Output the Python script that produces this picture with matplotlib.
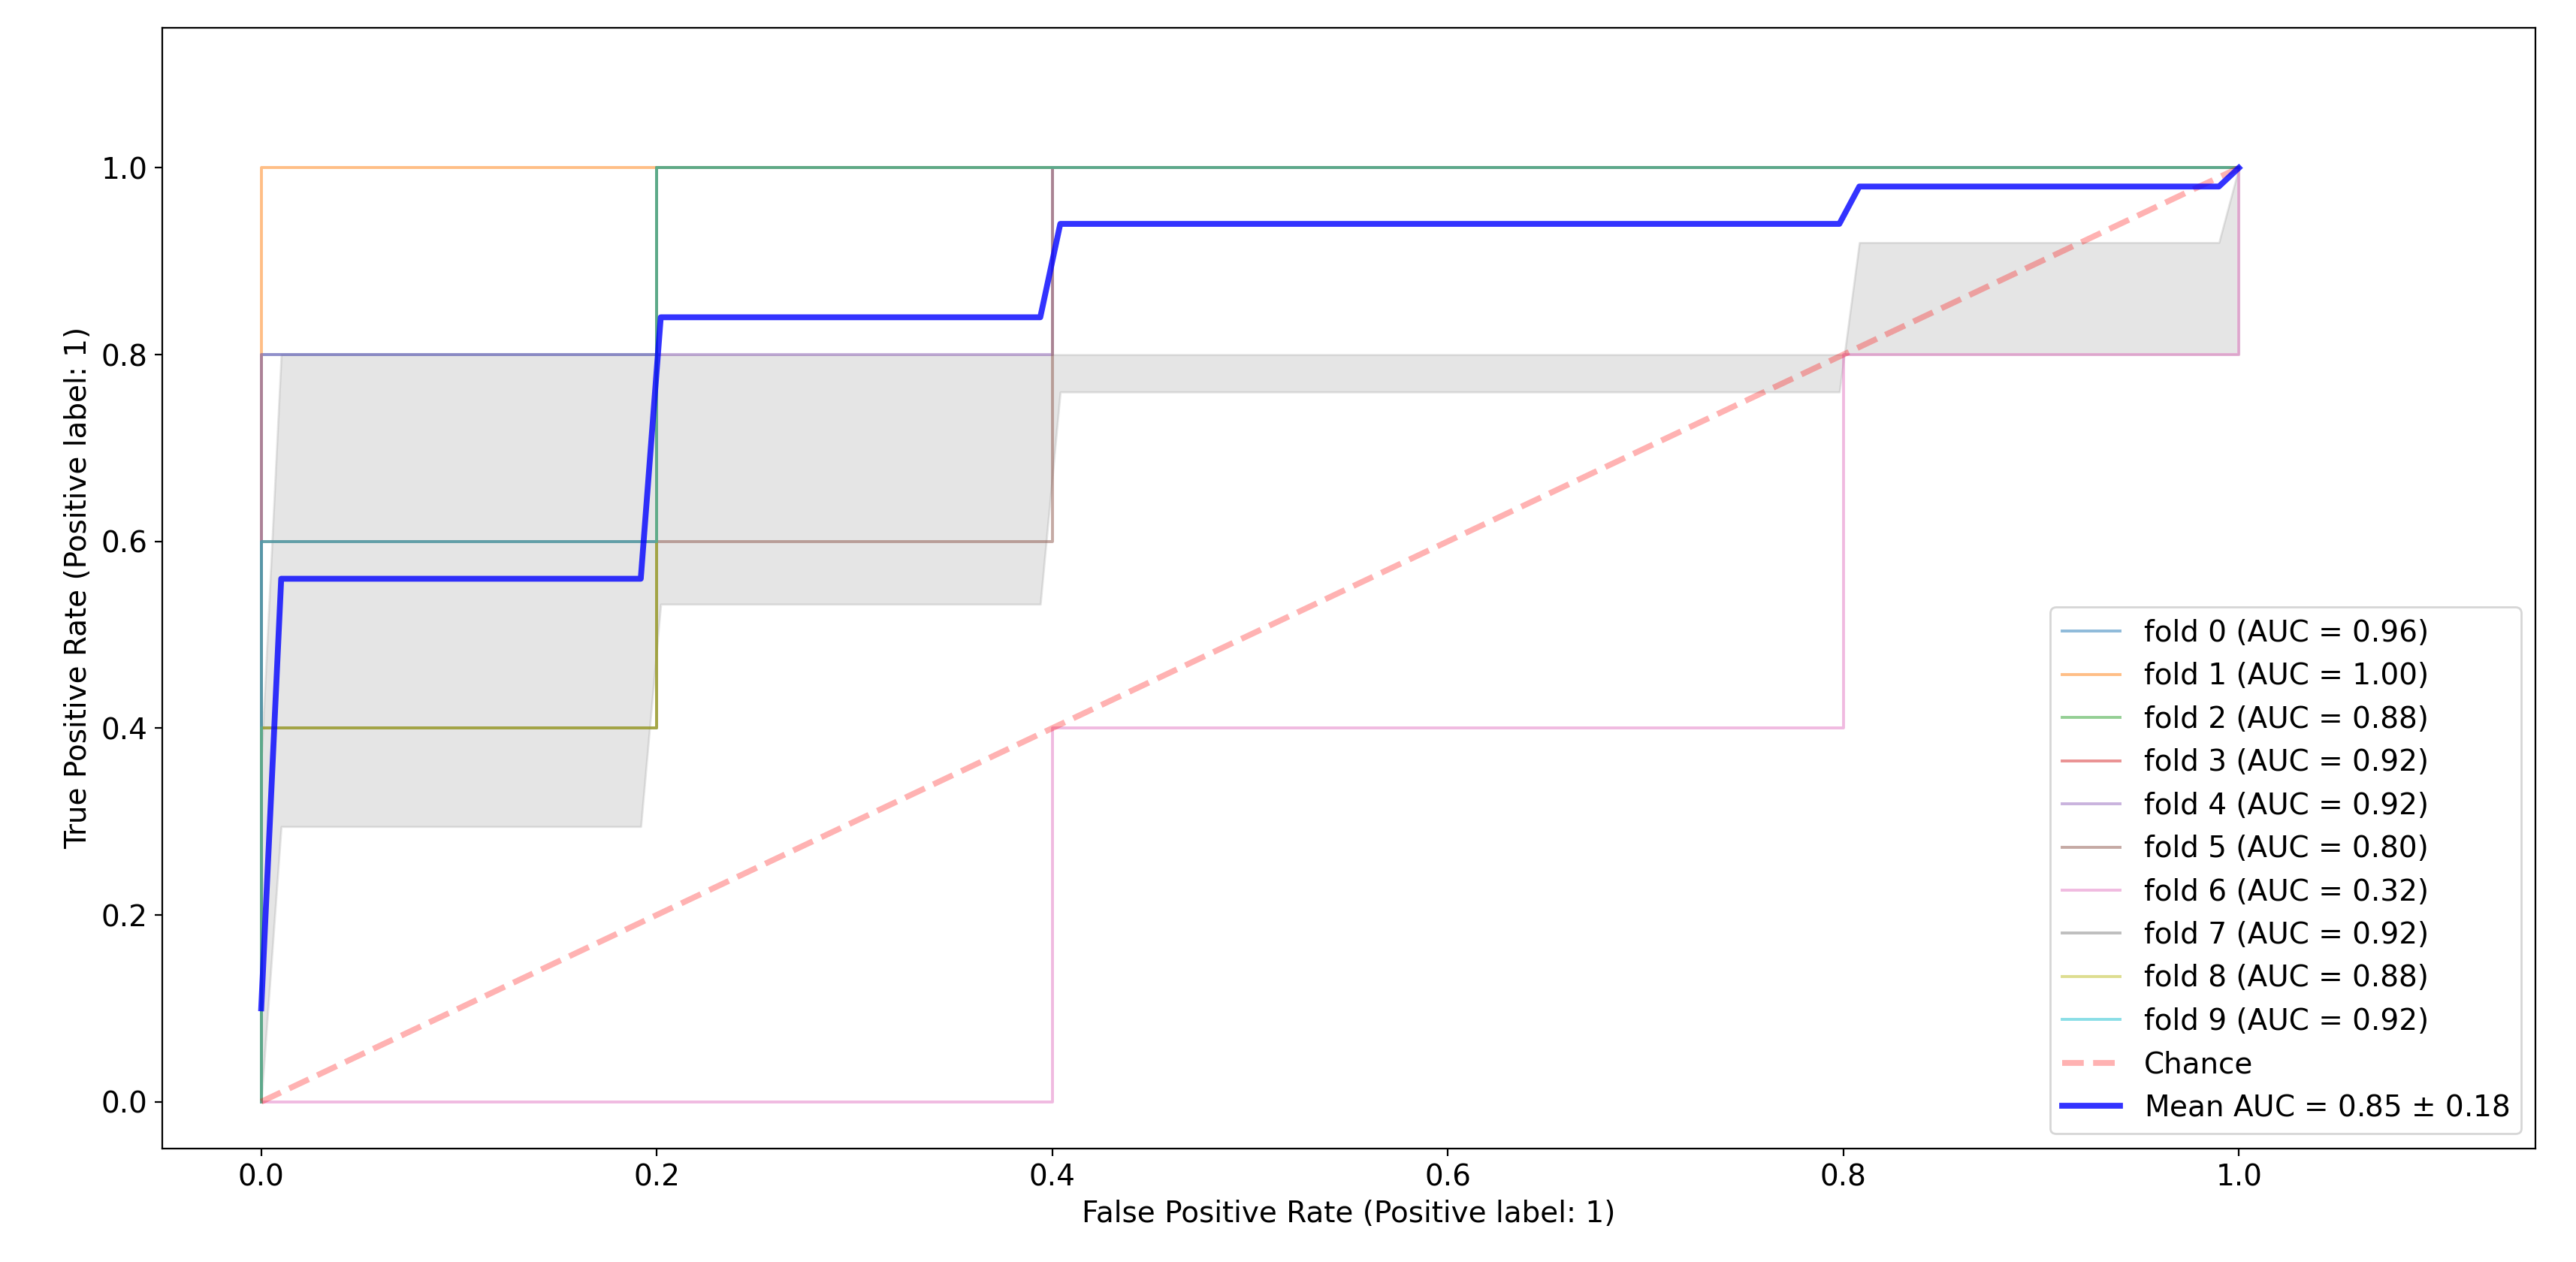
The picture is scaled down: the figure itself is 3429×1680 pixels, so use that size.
import matplotlib
matplotlib.use("Agg")
import matplotlib.pyplot as plt
import numpy as np

# ROC points per fold (fpr, tpr)
fold_fpr = [
    [0.0, 0.0, 0.0, 0.2, 0.2, 1.0],
    [0.0, 0.0, 0.0, 1.0],
    [0.0, 0.0, 0.0, 0.2, 0.2, 1.0],
    [0.0, 0.0, 0.0, 0.2, 0.2, 1.0],
    [0.0, 0.0, 0.0, 0.4, 0.4, 1.0],
    [0.0, 0.0, 0.0, 0.2, 0.2, 0.4, 0.4, 1.0],
    [0.0, 0.4, 0.4, 0.8, 0.8, 1.0, 1.0],
    [0.0, 0.0, 0.0, 0.2, 0.2, 1.0],
    [0.0, 0.0, 0.0, 0.2, 0.2, 1.0],
    [0.0, 0.0, 0.0, 0.2, 0.2, 1.0],
]
fold_tpr = [
    [0.0, 0.0, 0.8, 0.8, 1.0, 1.0],
    [0.0, 0.0, 1.0, 1.0],
    [0.0, 0.0, 0.4, 0.4, 1.0, 1.0],
    [0.0, 0.0, 0.6, 0.6, 1.0, 1.0],
    [0.0, 0.0, 0.8, 0.8, 1.0, 1.0],
    [0.0, 0.0, 0.4, 0.4, 0.6, 0.6, 1.0, 1.0],
    [0.0, 0.0, 0.4, 0.4, 0.8, 0.8, 1.0],
    [0.0, 0.0, 0.6, 0.6, 1.0, 1.0],
    [0.0, 0.0, 0.4, 0.4, 1.0, 1.0],
    [0.0, 0.0, 0.6, 0.6, 1.0, 1.0],
]
fold_auc = [0.96, 1.00, 0.88, 0.92, 0.92, 0.80, 0.32, 0.92, 0.88, 0.92]
mean_start = 0.1   # value of the mean curve at fpr = 0
band_cap = 0.8     # upper edge of the grey band as drawn in the reference

plt.rcParams["font.size"] = 14

mean_fpr = np.linspace(0, 1, 100)
tprs = []
for fpr, tpr in zip(fold_fpr, fold_tpr):
    t = np.interp(mean_fpr, fpr[1:], tpr[1:])
    tprs.append(t)
tprs = np.array(tprs)
mean_tpr = tprs.mean(axis=0)
mean_tpr[0] = mean_start
mean_tpr[-1] = 1.0
std_tpr = tprs.std(axis=0)
std_auc = np.std(fold_auc)

fig, ax = plt.subplots(figsize=(17.15, 8.4), dpi=200)

for i, (fpr, tpr) in enumerate(zip(fold_fpr, fold_tpr)):
    ax.plot(fpr, tpr, lw=1.4, alpha=0.5, color=f"C{i}",
            label=f"fold {i} (AUC = {fold_auc[i]:.2f})")

ax.plot([0, 1], [0, 1], linestyle="--", lw=2.8, color="r", alpha=0.3, label="Chance")
ax.plot(mean_fpr, mean_tpr, color="b", lw=2.8, alpha=0.8,
        label=rf"Mean AUC = {0.85:.2f} $\pm$ {std_auc:.2f}")

upper = np.minimum(mean_tpr + std_tpr, band_cap)
lower = np.maximum(mean_tpr - std_tpr, 0)
ax.fill_between(mean_fpr, lower, upper, color="grey", alpha=0.2)

ax.set_xlim(-0.05, 1.15)
ax.set_ylim(-0.05, 1.15)
ax.set_xticks([0, 0.2, 0.4, 0.6, 0.8, 1.0])
ax.set_yticks([0, 0.2, 0.4, 0.6, 0.8, 1.0])
ax.set_xlabel("False Positive Rate (Positive label: 1)")
ax.set_ylabel("True Positive Rate (Positive label: 1)")
ax.legend(loc="lower right")

fig.subplots_adjust(left=0.063, right=0.984, bottom=0.09, top=0.978)
fig.savefig("out.png", dpi=200)
